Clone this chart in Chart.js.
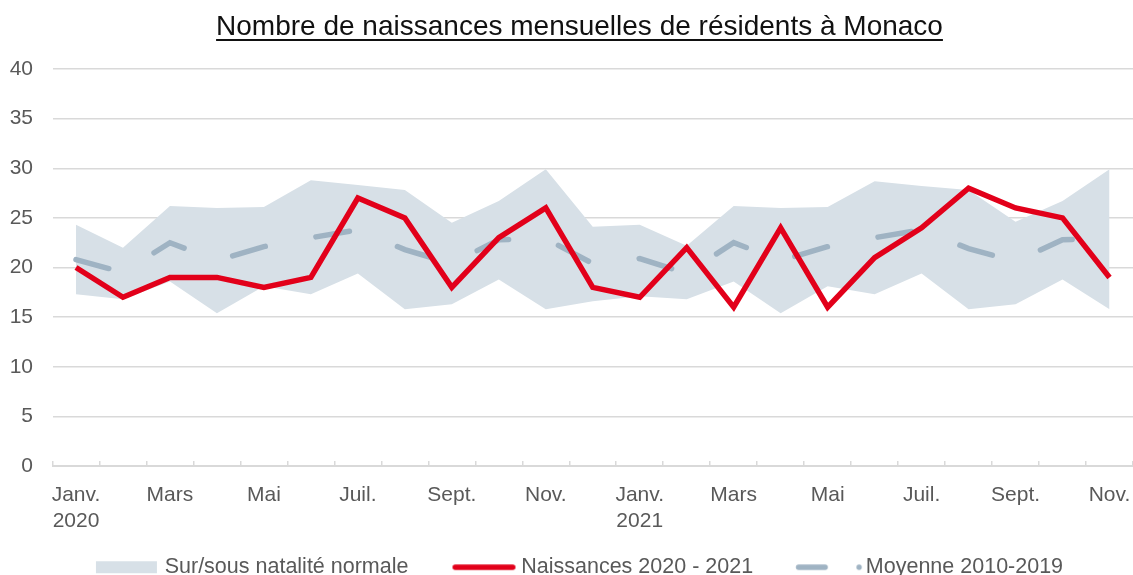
<!DOCTYPE html>
<html>
<head>
<meta charset="utf-8">
<script src="https://cdn.jsdelivr.net/npm/chart.js@4/dist/chart.umd.min.js"></script>
<style>
html, body { margin: 0; padding: 0; background: #ffffff; overflow: hidden; }
#wrap { position: relative; width: 1133px; height: 588px; }
</style>
</head>
<body>
<div id="wrap"><canvas id="c"></canvas></div>
<script>
const categories = ['2020-01','2020-02','2020-03','2020-04','2020-05','2020-06','2020-07','2020-08','2020-09','2020-10','2020-11','2020-12',
                    '2021-01','2021-02','2021-03','2021-04','2021-05','2021-06','2021-07','2021-08','2021-09','2021-10','2021-11'];
const tickLabels = [['Janv.','2020'],'','Mars','','Mai','','Juil.','','Sept.','','Nov.','',
                    ['Janv.','2021'],'','Mars','','Mai','','Juil.','','Sept.','','Nov.'];
const bandUpper = [24.3,22.0,26.2,26.0,26.1,28.8,28.3,27.8,24.5,26.7,29.9,24.1,
                   24.3,22.2,26.2,26.0,26.1,28.7,28.2,27.8,24.6,26.7,29.9];
const bandLower = [17.3,16.8,18.6,15.4,18.1,17.3,19.4,15.8,16.3,18.8,15.8,16.6,
                   17.1,16.8,18.6,15.4,18.1,17.3,19.4,15.8,16.3,18.8,15.8];
const births = [20,17,19,19,18,19,27,25,18,23,26,18,
                17,22,16,24,16,21,24,28,26,25,19];
const mean2010_2019 = [20.8,19.5,22.5,20.7,22.1,23.0,23.8,21.8,20.4,22.8,22.9,20.4,
                       20.9,19.4,22.5,20.7,22.1,23.0,23.8,21.9,20.6,22.8,22.9];
const yTicks = { min: 0, max: 40, step: 5 };

const FONT = "'Liberation Sans', Arial, Helvetica, sans-serif";
const TXT = '#595959';
const BAND = '#d7e0e7';
const RED = '#e2001a';
const GREY = '#9fb3c3';

// legend glyphs: canvas 120 wide, item x sits at canvas x = 31
function mk(draw) {
  const c = document.createElement('canvas');
  c.width = 120; c.height = 20;
  const g = c.getContext('2d');
  draw(g);
  return c;
}
const O = 31;
const legBand = mk(g => { g.fillStyle = BAND; g.fillRect(O, 4, 61, 12); });
const legRed = mk(g => { g.strokeStyle = RED; g.lineWidth = 5.5; g.lineCap = 'round';
  g.beginPath(); g.moveTo(O + 2.75, 10); g.lineTo(O + 60.25, 10); g.stroke(); });
const legGrey = mk(g => { g.strokeStyle = GREY; g.lineWidth = 5.5; g.lineCap = 'round';
  g.beginPath(); g.moveTo(O + 1.5, 10); g.lineTo(O + 28, 10); g.stroke();
  g.fillStyle = GREY; g.beginPath(); g.arc(O + 62, 10, 2.7, 0, Math.PI * 2); g.fill(); });
const legendImgs = [legBand, null, legRed, legGrey];

const underline = {
  id: 'underline',
  afterDraw(chart) {
    const t = chart.titleBlock;
    if (!t) return;
    const ctx = chart.ctx;
    const f = t.options.font;
    ctx.save();
    ctx.font = f.size + 'px ' + FONT;
    const w = ctx.measureText(t.options.text).width;
    const cx = (t.left + t.right) / 2;
    ctx.fillStyle = '#111111';
    ctx.fillRect(cx - w / 2, 39, w, 2);
    ctx.restore();
  }
};

const noClip = () => undefined;

new Chart(document.getElementById('c'), {
  type: 'line',
  data: {
    labels: categories,
    datasets: [
      { label: 'Sur/sous natalité normale', data: bandUpper, fill: '+1', backgroundColor: BAND,
        borderWidth: 0, borderColor: 'rgba(0,0,0,0)', pointRadius: 0, tension: 0 },
      { label: 'lower', data: bandLower, fill: false, borderWidth: 0, borderColor: 'rgba(0,0,0,0)',
        pointRadius: 0, tension: 0 },
      { label: 'Naissances 2020 - 2021', data: births, borderColor: RED, borderWidth: 5.5,
        pointRadius: 0, fill: false, tension: 0 },
      { label: 'Moyenne 2010-2019', data: mean2010_2019, borderColor: GREY, borderWidth: 5.5,
        borderDash: [34, 51.5], borderCapStyle: 'round', pointRadius: 0, fill: false, tension: 0 }
    ]
  },
  options: {
    responsive: true,
    maintainAspectRatio: false,
    devicePixelRatio: 1,
    animation: false,
    layout: { padding: { left: 26, right: 0, top: 0, bottom: 0 } },
    plugins: {
      filler: { drawTime: 'beforeDatasetsDraw' },
      tooltip: { enabled: false },
      title: {
        display: true,
        text: 'Nombre de naissances mensuelles de résidents à Monaco',
        color: '#111111',
        font: { family: FONT, size: 28, weight: 'normal', lineHeight: 1.2 },
        padding: { top: 10.5, bottom: 24.9 }
      },
      legend: {
        position: 'bottom',
        labels: {
          usePointStyle: true,
          pointStyleWidth: 58,
          padding: 44,
          color: TXT,
          font: { family: FONT, size: 21.5 },
          filter: item => item.datasetIndex !== 1,
          generateLabels: chart => {
            const items = Chart.defaults.plugins.legend.labels.generateLabels(chart);
            items.forEach(it => { it.pointStyle = legendImgs[it.datasetIndex]; it.fontColor = TXT; });
            return items;
          }
        }
      }
    },
    scales: {
      x: {
        offset: true,
        grid: { display: true, drawOnChartArea: false, drawTicks: true, tickLength: -5,
                color: '#d9d9d9', lineWidth: 1.5, offset: true },
        border: { display: true, color: '#d9d9d9', width: 2 },
        ticks: { autoSkip: false, maxRotation: 0, minRotation: 0, padding: 22, color: TXT,
                 font: { family: FONT, size: 21, lineHeight: 1.2 },
                 callback: (v, i) => tickLabels[i] },
        afterFit: s => { s.height = 46.5; s.paddingLeft = 0; s.paddingRight = 0; s._computeLabelArea = noClip; }
      },
      y: {
        min: yTicks.min, max: yTicks.max,
        ticks: { stepSize: yTicks.step, padding: 19.5, color: TXT, font: { family: FONT, size: 21 } },
        grid: { color: '#d9d9d9', lineWidth: 1.5, drawTicks: false },
        border: { display: false },
        afterFit: s => { s.width = 26.5; s._computeLabelArea = noClip; }
      }
    }
  },
  plugins: [underline]
});
</script>
</body>
</html>
